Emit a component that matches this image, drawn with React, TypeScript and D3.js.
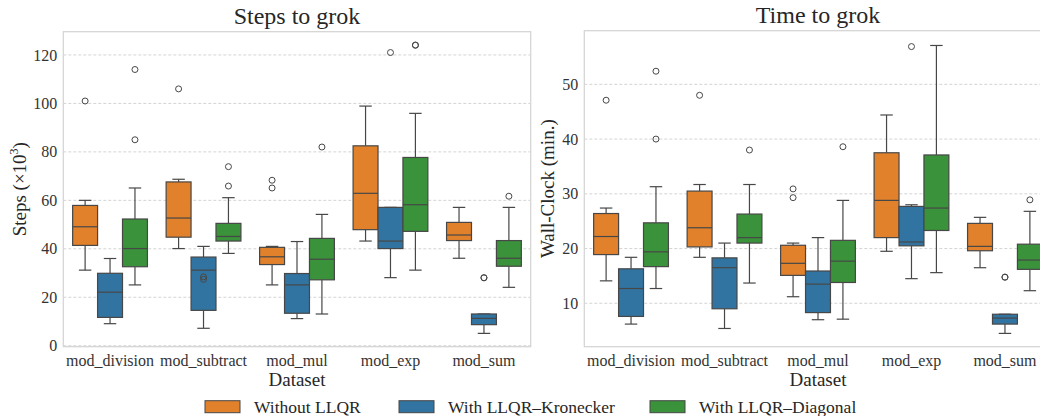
import React from "react";
import * as d3 from "d3";

const categories = ["mod_division", "mod_subtract", "mod_mul", "mod_exp", "mod_sum"];
const seriesNames = ["Without LLQR", "With LLQR–Kronecker", "With LLQR–Diagonal"];
const colors = ["#e1812c", "#3274a1", "#3a923a"];

// box stats per category: [low whisker, q1, median, q3, high whisker]
const stepsWithout = [[31.2, 41.4, 49.1, 57.9, 60], [40.1, 44.8, 52.7, 67.6, 68.7], [25.1, 33.5, 36.7, 40.6, 41], [43.2, 47.9, 62.9, 82.5, 98.9], [36.1, 43.4, 45.7, 50.9, 57.1]];
const stepsKron = [[9.1, 11.7, 22.1, 29.9, 36], [7.2, 14.6, 31.2, 36.6, 41], [11.2, 13.4, 25.1, 29.8, 43], [28.1, 40.1, 43.2, 57.1, 57.1], [5.1, 8.7, 11.3, 13.1, 13.1]];
const stepsDiag = [[25.1, 32.6, 40.1, 52.3, 65.1], [38.1, 43.2, 45.1, 50.5, 61.1], [13.1, 27.2, 35.7, 44.3, 54.2], [31.2, 47.2, 58.2, 77.7, 95.9], [24.1, 32.8, 36.1, 43.4, 57.1]];
const stepsOutWithout = [[101], [106], [68.3, 65.1], [], []];
const stepsOutKron = [[], [28.4, 27.4], [], [121], [28.1, 28.0]];
const stepsOutDiag = [[114, 85], [73.9, 65.9], [82], [124.1, 124.0], [61.7]];

const timeWithout = [[14.1, 18.9, 22.2, 26.4, 27.4], [18.4, 20.3, 23.8, 30.5, 31.7], [11.2, 15.1, 17.3, 20.6, 21], [19.5, 22, 28.8, 37.5, 44.4], [16.5, 19.6, 20.4, 24.6, 25.7]];
const timeKron = [[6.2, 7.6, 12.7, 16.3, 18.4], [5.4, 9, 16.5, 18.3, 21], [7, 8.3, 13.5, 15.9, 22], [14.5, 20.5, 21.2, 27.7, 28], [4.5, 6.2, 7.3, 8, 8]];
const timeDiag = [[12.7, 16.7, 19.4, 24.7, 31.3], [13.7, 21, 22, 26.3, 31.7], [7.1, 13.8, 17.7, 21.5, 28.8], [15.6, 23.3, 27.4, 37.1, 57.1], [12.3, 16.2, 17.9, 20.8, 26.8]];
const timeOutWithout = [[47.1], [48], [30.9, 29.3], [], []];
const timeOutKron = [[], [], [], [56.9], [14.8, 14.75]];
const timeOutDiag = [[52.4, 40], [38], [38.6], [], [28.9]];

const stepsTicks = [0, 20, 40, 60, 80, 100, 120];
const timeTicks = [10, 20, 30, 40, 50];

const FONT = "Liberation Serif, DejaVu Serif, serif";
const LINE = "#474747";

function Panel({ x0, x1, y0, y1, domain, ticks, title, ylabel, stats, outliers, ylabelX }: any) {
  const x = d3.scaleBand().domain(categories).range([x0, x1]).paddingInner(0.2).paddingOuter(0.1);
  const hue = d3.scaleBand().domain(seriesNames).range([0, x.bandwidth()]);
  const y = d3.scaleLinear().domain(domain).range([y1, y0]);
  const bw = hue.bandwidth();
  return (
    <g>
      {ticks.map((t: number) => (
        <g key={t}>
          <line x1={x0} x2={x1} y1={y(t)} y2={y(t)} stroke="#cfcfcf" strokeDasharray="3,2" strokeWidth={0.9} />
          <text x={x0 - 6} y={y(t)} dy="0.35em" textAnchor="end" fontSize={16} fill="#333" fontFamily={FONT}>{t}</text>
        </g>
      ))}
      <rect x={x0} y={y0} width={x1 - x0} height={y1 - y0} fill="none" stroke="#d6d6d6" strokeWidth={1.3} />
      {categories.map((c, i) => (
        <g key={c}>
          {seriesNames.map((s, j) => {
            const [lo, q1, med, q3, hi] = stats[j][i];
            const bx = (x(c) as number) + (hue(s) as number);
            const cx = bx + bw / 2;
            return (
              <g key={s}>
                <line x1={cx} x2={cx} y1={y(hi)} y2={y(q3)} stroke={LINE} strokeWidth={1.2} />
                <line x1={cx} x2={cx} y1={y(lo)} y2={y(q1)} stroke={LINE} strokeWidth={1.2} />
                <line x1={cx - bw / 4} x2={cx + bw / 4} y1={y(hi)} y2={y(hi)} stroke={LINE} strokeWidth={1.2} />
                <line x1={cx - bw / 4} x2={cx + bw / 4} y1={y(lo)} y2={y(lo)} stroke={LINE} strokeWidth={1.2} />
                <rect x={bx} y={y(q3)} width={bw} height={y(q1) - y(q3)} fill={colors[j]} stroke={LINE} strokeWidth={1.2} />
                <line x1={bx} x2={bx + bw} y1={y(med)} y2={y(med)} stroke={LINE} strokeWidth={1.2} />
                {outliers[j][i].map((v: number, k: number) => (
                  <circle key={k} cx={cx} cy={y(v)} r={3} fill="none" stroke={LINE} strokeWidth={1} />
                ))}
              </g>
            );
          })}
          <text x={(x(c) as number) + x.bandwidth() / 2} y={y1 + 19} textAnchor="middle" fontSize={16} fill="#333" fontFamily={FONT}>{c}</text>
        </g>
      ))}
      <text x={(x0 + x1) / 2} y={y0 - 8} textAnchor="middle" fontSize={24} fill="#262626" fontFamily={FONT}>{title}</text>
      <text x={(x0 + x1) / 2} y={y1 + 39} textAnchor="middle" fontSize={19} fill="#262626" fontFamily={FONT}>Dataset</text>
      <text transform={`translate(${ylabelX},${(y0 + y1) / 2}) rotate(-90)`} textAnchor="middle" fontSize={19} fill="#262626" fontFamily={FONT}>{ylabel}</text>
    </g>
  );
}

export default function App() {
  const legendX = [205, 399, 650];
  return (
    <svg width={1040} height={416} style={{ position: "absolute", left: 0, top: 0 }}>
      <rect width={1040} height={416} fill="white" />
      <Panel x0={63.3} x1={530.7} y0={31.7} y1={346.7} domain={[-0.4, 129.6]} ticks={stepsTicks}
        title="Steps to grok" ylabelX={26}
        ylabel={<>Steps (×10<tspan dy="-8" fontSize={12}>3</tspan><tspan dy="8">)</tspan></>}
        stats={[stepsWithout, stepsKron, stepsDiag]} outliers={[stepsOutWithout, stepsOutKron, stepsOutDiag]} />
      <Panel x0={584.3} x1={1051.7} y0={30.7} y1={346.7} domain={[2.07, 59.8]} ticks={timeTicks}
        title="Time to grok" ylabelX={554} ylabel="Wall-Clock (min.)"
        stats={[timeWithout, timeKron, timeDiag]} outliers={[timeOutWithout, timeOutKron, timeOutDiag]} />
      {seriesNames.map((s, j) => (
        <g key={s}>
          <rect x={legendX[j]} y={400.7} width={35} height={12} fill={colors[j]} stroke={LINE} strokeWidth={1} />
          <text x={legendX[j] + 49} y={406.7} dy="0.35em" fontSize={17.5} fill="#262626" fontFamily={FONT}>{s}</text>
        </g>
      ))}
    </svg>
  );
}
